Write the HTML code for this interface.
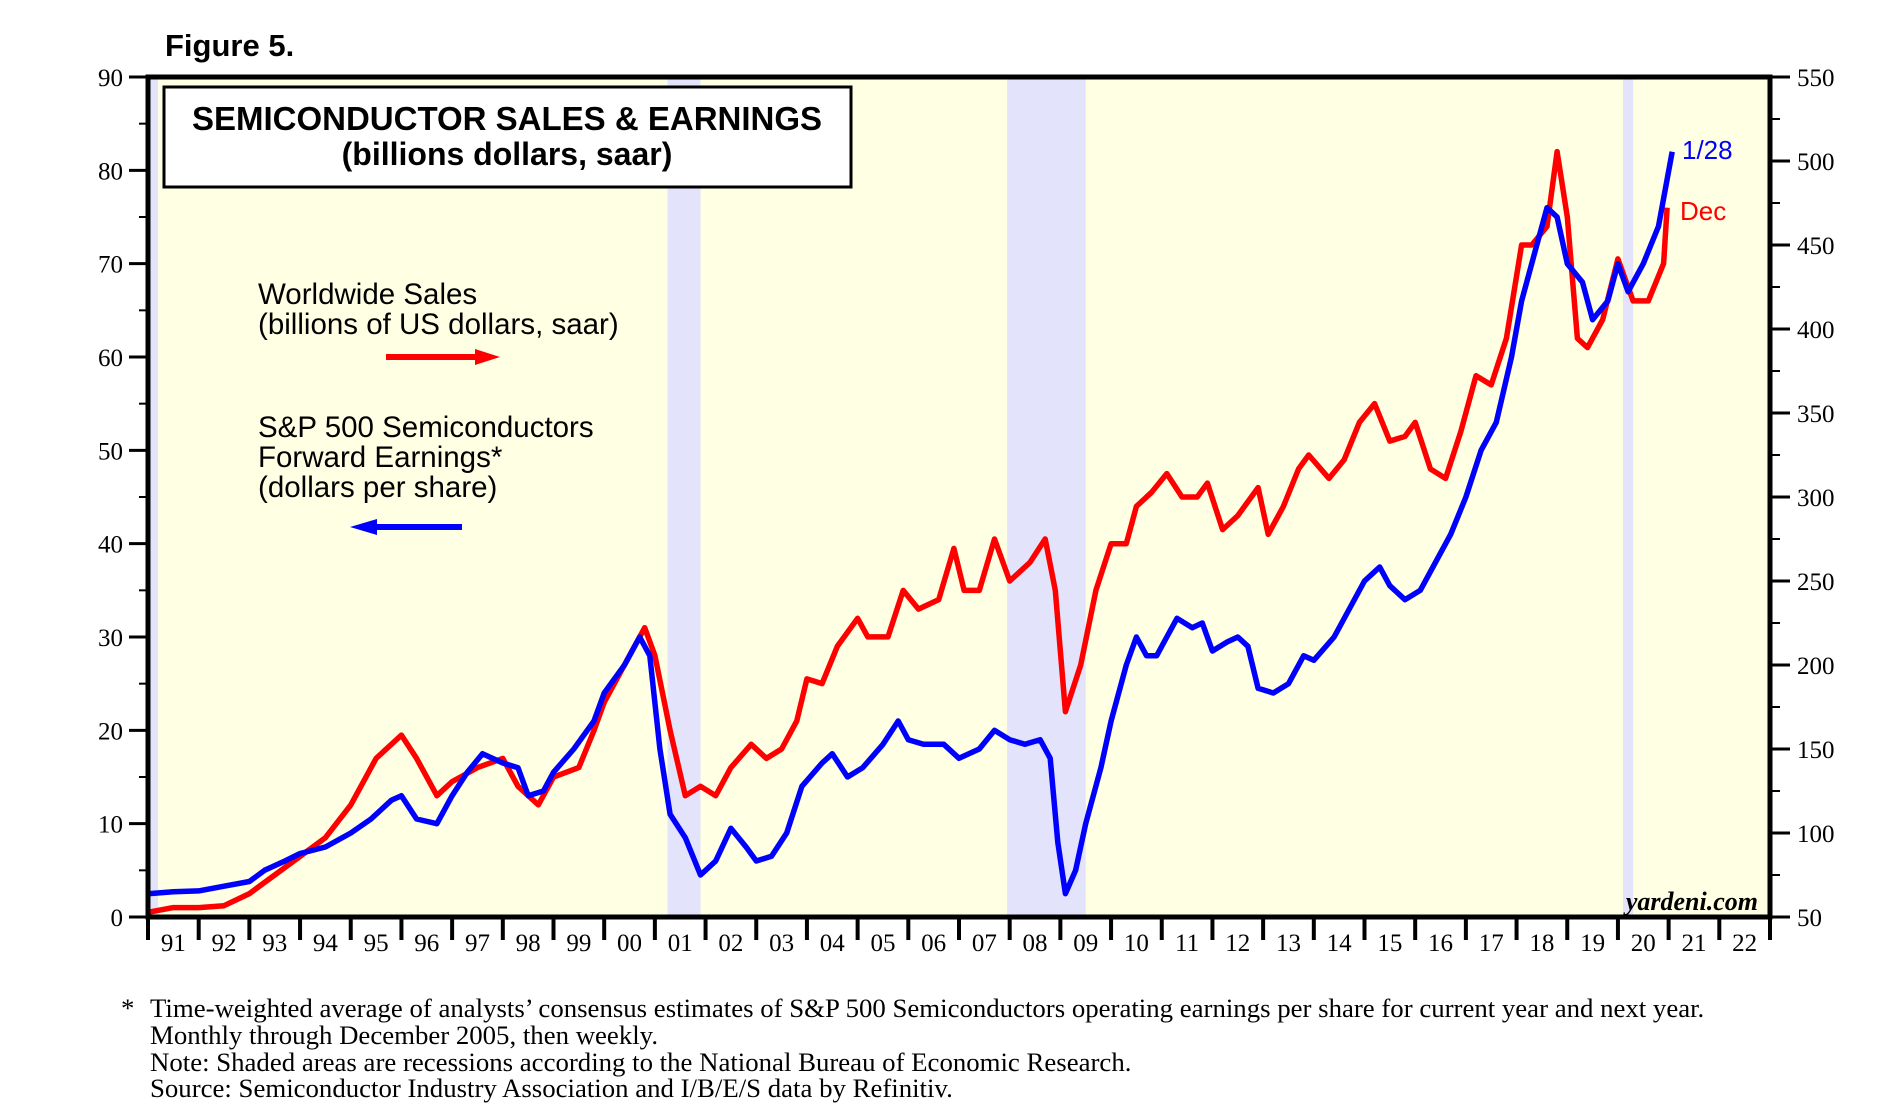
<!DOCTYPE html>
<html><head><meta charset="utf-8"><style>
html,body{margin:0;padding:0;background:#fff;}
svg{display:block;}
.ser{font-family:"Liberation Serif",serif;}
.sans{font-family:"Liberation Sans",sans-serif;}
</style></head><body>
<svg id="chart" width="1884" height="1115" viewBox="0 0 1884 1115" xmlns="http://www.w3.org/2000/svg">
<text x="165" y="56" class="sans" font-size="31" font-weight="bold">Figure 5.</text>
<g id="plot"></g>
</svg>
<script>
const yearsRed=[1991,1991.5,1992,1992.5,1993,1993.5,1994,1994.5,1995,1995.5,1996,1996.3,1996.7,1997,1997.5,1998,1998.3,1998.7,1999,1999.5,1999.8,2000,2000.5,2000.8,2001,2001.3,2001.6,2001.9,2002.2,2002.5,2002.9,2003.2,2003.5,2003.8,2004,2004.3,2004.6,2005,2005.2,2005.6,2005.9,2006.2,2006.6,2006.9,2007.1,2007.4,2007.7,2008,2008.4,2008.7,2008.9,2009.1,2009.4,2009.7,2010,2010.3,2010.5,2010.8,2011.1,2011.4,2011.7,2011.9,2012.2,2012.5,2012.9,2013.1,2013.4,2013.7,2013.9,2014.3,2014.6,2014.9,2015.2,2015.5,2015.8,2016,2016.3,2016.6,2016.9,2017.2,2017.5,2017.8,2018.1,2018.3,2018.6,2018.8,2019,2019.2,2019.4,2019.7,2020,2020.3,2020.6,2020.9,2020.97];
const salesLeftScale=[0.5,1,1,1.2,2.5,4.5,6.5,8.5,12,17,19.5,17,13,14.5,16,17,14,12,15,16,20,23,28,31,28,20,13,14,13,16,18.5,17,18,21,25.5,25,29,32,30,30,35,33,34,39.5,35,35,40.5,36,38,40.5,35,22,27,35,40,40,44,45.5,47.5,45,45,46.5,41.5,43,46,41,44,48,49.5,47,49,53,55,51,51.5,53,48,47,52,58,57,62,72,72,74,82,75,62,61,64,70.5,66,66,70,76];
const sales=salesLeftScale.map(v=>+(50+v*500/90).toFixed(1));
const yearsBlue=[1991,1991.5,1992,1992.5,1993,1993.3,1993.7,1994,1994.5,1995,1995.4,1995.8,1996,1996.3,1996.7,1997,1997.3,1997.6,1998,1998.3,1998.5,1998.8,1999,1999.4,1999.8,2000,2000.4,2000.7,2000.9,2001.1,2001.3,2001.6,2001.9,2002.2,2002.5,2002.8,2003,2003.3,2003.6,2003.9,2004.3,2004.5,2004.8,2005.1,2005.5,2005.8,2006,2006.3,2006.7,2007,2007.4,2007.7,2008,2008.3,2008.6,2008.8,2008.95,2009.1,2009.3,2009.5,2009.8,2010,2010.3,2010.5,2010.7,2010.9,2011.1,2011.3,2011.6,2011.8,2012,2012.3,2012.5,2012.7,2012.9,2013.2,2013.5,2013.8,2014,2014.4,2014.7,2015,2015.3,2015.5,2015.8,2016.1,2016.4,2016.7,2017,2017.3,2017.6,2017.9,2018.1,2018.4,2018.6,2018.8,2019,2019.3,2019.5,2019.8,2020,2020.2,2020.5,2020.8,2021.07];
const earnings=[2.5,2.7,2.8,3.3,3.8,5,6,6.8,7.5,9,10.5,12.5,13,10.5,10,13,15.5,17.5,16.5,16,13,13.5,15.5,18,21,24,27,30,28,18,11,8.5,4.5,6,9.5,7.5,6,6.5,9,14,16.5,17.5,15,16,18.5,21,19,18.5,18.5,17,18,20,19,18.5,19,17,8,2.5,5,10,16,21,27,30,28,28,30,32,31,31.5,28.5,29.5,30,29,24.5,24,25,28,27.5,30,33,36,37.5,35.5,34,35,38,41,45,50,53,60,66,72,76,75,70,68,64,66,70,67,70,74,82];
const recessions=[[1990.5,1991.2],[2001.25,2001.9],[2007.95,2009.5],[2020.1,2020.3]];
const leftTicks=[0,10,20,30,40,50,60,70,80,90];
const rightTicks=[50,100,150,200,250,300,350,400,450,500,550];
const yearLabels=["91","92","93","94","95","96","97","98","99","00","01","02","03","04","05","06","07","08","09","10","11","12","13","14","15","16","17","18","19","20","21","22"];

const L=148,R=1770,T=77,B=917;
const X=y=>L+(y-1991)*(R-L)/32;
const YL=v=>B-v*(B-T)/90;
const YR=v=>B-(v-50)*(B-T)/500;
const NS="http://www.w3.org/2000/svg";
const g=document.getElementById('plot');
function mk(tag,attrs,parent){const e=document.createElementNS(NS,tag);for(const k in attrs)e.setAttribute(k,attrs[k]);(parent||g).appendChild(e);return e;}

let bg=mk('rect',{x:L,y:T,width:R-L,height:B-T,fill:'#ffffe3'});


recessions.forEach(r=>{
  const a=Math.max(X(r[0]),L);
  const e=mk('rect',{x:a,y:T,width:X(r[1])-a,height:B-T,fill:'#e3e3fb'});
  
  
});
let tb=mk('rect',{x:164,y:87,width:687,height:100,fill:'#fff',stroke:'#000','stroke-width':3});


let t1=mk('text',{x:507,y:130,'text-anchor':'middle','font-size':33,'font-weight':'bold',class:'sans'});t1.textContent='SEMICONDUCTOR SALES & EARNINGS';


let t2=mk('text',{x:507,y:165,'text-anchor':'middle','font-size':32,'font-weight':'bold',class:'sans'});t2.textContent='(billions dollars, saar)';


[['Worldwide Sales',304],['(billions of US dollars, saar)',334],['S&P 500 Semiconductors',437],['Forward Earnings*',467],['(dollars per share)',497]].forEach(([s,y])=>{
  const e=mk('text',{x:258,y:y,'font-size':29.5,class:'sans'});e.textContent=s;
  
  
});
let ar=mk('path',{d:'M386 357 H480',stroke:'#f00','stroke-width':6,fill:'none'});


let ah=mk('path',{d:'M475 349 L500 357 L475 365 Z',fill:'#f00'});


let br=mk('path',{d:'M372 527 H462',stroke:'#00f','stroke-width':6,fill:'none'});


let bh=mk('path',{d:'M377 519 L350 527 L377 535 Z',fill:'#00f'});



let pr=mk('path',{d:yearsRed.map((y,i)=>(i?'L':'M')+X(y).toFixed(1)+' '+YR(sales[i]).toFixed(1)).join(' '),stroke:'#f00','stroke-width':5.5,fill:'none','stroke-linejoin':'round'});


let pb=mk('path',{d:yearsBlue.map((y,i)=>(i?'L':'M')+X(y).toFixed(1)+' '+YL(earnings[i]).toFixed(1)).join(' '),stroke:'#00f','stroke-width':5.5,fill:'none','stroke-linejoin':'round'});


let l1=mk('text',{x:1682,y:159,'font-size':26,fill:'#00f',class:'sans'});l1.textContent='1/28';


let l2=mk('text',{x:1680,y:220,'font-size':26,fill:'#f00',class:'sans'});l2.textContent='Dec';


let yd=mk('text',{x:1758,y:910,'text-anchor':'end','font-size':26,'font-weight':'bold','font-style':'italic',class:'ser'});yd.textContent='yardeni.com';



let fr=mk('rect',{x:L,y:T,width:R-L,height:B-T,fill:'none',stroke:'#000','stroke-width':5});



leftTicks.forEach(v=>{
  const tk=mk('line',{x1:129,x2:L,y1:YL(v),y2:YL(v),stroke:'#000','stroke-width':3});
  
  
  if(v<90){const m=mk('line',{x1:139,x2:L,y1:YL(v+5),y2:YL(v+5),stroke:'#000','stroke-width':2});
  
  }
  const e=mk('text',{x:123,y:YL(v)+9,'text-anchor':'end','font-size':25,class:'ser'});e.textContent=v;
  
  
});
rightTicks.forEach(v=>{
  const tk=mk('line',{x1:R,x2:1790,y1:YR(v),y2:YR(v),stroke:'#000','stroke-width':3});
  
  
  if(v<550){const m=mk('line',{x1:R,x2:1780,y1:YR(v+25),y2:YR(v+25),stroke:'#000','stroke-width':2});
  
  }
  const e=mk('text',{x:1797,y:YR(v)+9,'font-size':25,class:'ser'});e.textContent=v;
  
  
});
for(let i=0;i<=32;i++){
  const tk=mk('line',{x1:X(1991+i),x2:X(1991+i),y1:B,y2:940,stroke:'#000','stroke-width':4});
  
  
}
yearLabels.forEach((s,i)=>{
  const e=mk('text',{x:X(1991.5+i),y:951,'text-anchor':'middle','font-size':25,class:'ser'});e.textContent=s;
  
  
});
[['*',121,1017],['Time-weighted average of analysts\u2019 consensus estimates of S&P 500 Semiconductors operating earnings per share for current year and next year.',150,1017],['Monthly through December 2005, then weekly.',150,1044],['Note: Shaded areas are recessions according to the National Bureau of Economic Research.',150,1071],['Source:  Semiconductor Industry Association and I/B/E/S data by Refinitiv.',150,1097]].forEach(([s,x,y])=>{
  const e=mk('text',{x:x,y:y,'font-size':26.8,class:'ser','xml:space':'preserve'});e.textContent=s;
  
  
});
</script>
</body></html>
